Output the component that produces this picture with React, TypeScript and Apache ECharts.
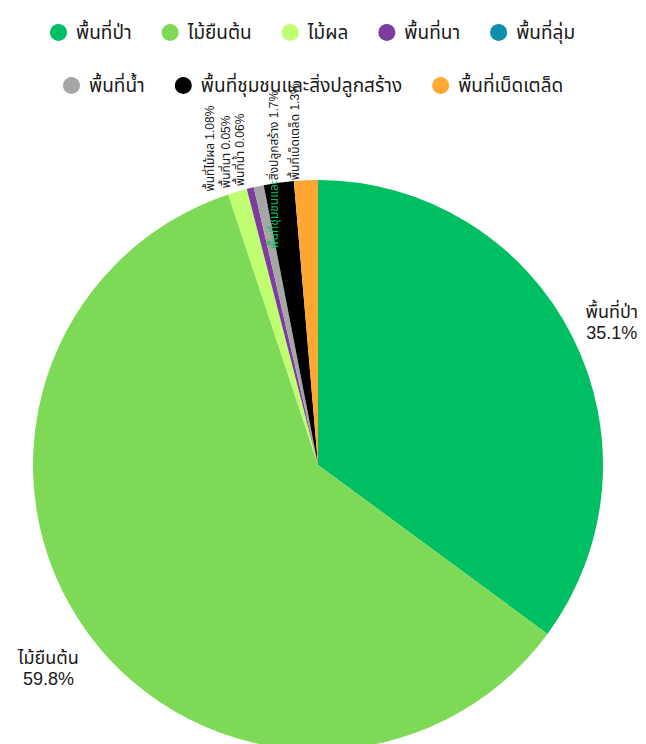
import React, { useEffect, useRef } from 'react';
import * as echarts from 'echarts';

const categories = [
  'พื้นที่ป่า',
  'ไม้ยืนต้น',
  'ไม้ผล',
  'พื้นที่นา',
  'พื้นที่ลุ่ม',
  'พื้นที่น้ำ',
  'พื้นที่ชุมชนและสิ่งปลูกสร้าง',
  'พื้นที่เบ็ดเตล็ด',
];
// slice sizes as drawn (percent share)
const shares = [35.1, 59.8, 1.08, 0.4, 0, 0.57, 1.7, 1.35];
// percentage texts as printed on the labels
const pctLabels = ['35.1%', '59.8%', '1.08%', '0.05%', '', '0.06%', '1.7%', '1.3%'];
const labelNames = [
  'พื้นที่ป่า',
  'ไม้ยืนต้น',
  'พื้นที่ไม้ผล',
  'พื้นที่นา',
  'พื้นที่ลุ่ม',
  'พื้นที่น้ำ',
  'พื้นที่ชุมชนและสิ่งปลูกสร้าง',
  'พื้นที่เบ็ดเตล็ด',
];
const colors = ['#00BF63', '#7ED957', '#C1FF72', '#7E3D9E', '#0E8FB0', '#A6A6A6', '#000000', '#FFA733'];
const legendRow1 = categories.slice(0, 5);
const legendRow2 = categories.slice(5);

const FONT = '"Liberation Sans", Arial, "Noto Sans Thai", Tahoma, sans-serif';

// screen nudges of labels (style only): [sx, sy]
const labelShiftX = [-3, 0, -22, -19, 0, -14, 0, -6];
const labelShiftY = [5, 11, 0, 0, 0, 0, 66, 0];

export default function App() {
  const ref = useRef<HTMLDivElement>(null);
  useEffect(() => {
    if (!ref.current) return;
    const chart = echarts.init(ref.current, undefined, { renderer: 'svg' });
    const data = categories.map((c, i) => {
      const big = shares[i] > 10;
      let label: any;
      if (shares[i] === 0) {
        label = { show: false };
      } else if (big) {
        label = {
          show: true,
          formatter: `${labelNames[i]}\n${pctLabels[i]}`,
          fontSize: 18,
          lineHeight: 21,
          color: '#1a1a1a',
          rotate: 0,
        };
      } else if (i === 6) {
        label = {
          show: true,
          formatter: `{g|พื้นที่ชุมชนและ}{n|สิ่งปลูกสร้าง ${pctLabels[i]}}`,
          rotate: 90,
          rich: {
            g: { color: '#00BF63', fontSize: 12, fontFamily: FONT },
            n: { color: '#1a1a1a', fontSize: 12, fontFamily: FONT },
          },
        };
      } else {
        label = {
          show: true,
          formatter: `${labelNames[i]} ${pctLabels[i]}`,
          fontSize: 12,
          color: '#1a1a1a',
          rotate: 90,
        };
      }
      return {
        name: c,
        value: shares[i],
        itemStyle: { color: colors[i] },
        label,
        labelLine: { show: false, length: big ? 42 : 0, length2: 0 },
      };
    });
    const legendBase = {
      icon: 'circle',
      itemWidth: 25,
      itemHeight: 17,
      itemGap: 30,
      padding: 5,
      textStyle: { fontSize: 19, color: '#1a1a1a', fontFamily: FONT },
    };
    chart.setOption({
      animation: false,
      textStyle: { fontFamily: FONT },
      legend: [
        { ...legendBase, data: legendRow1, top: 10, left: 37 },
        { ...legendBase, data: legendRow2, top: 63, left: 50 },
      ],
      series: [
        {
          type: 'pie',
          center: [310, 457],
          radius: 285,
          startAngle: 90,
          clockwise: true,
          avoidLabelOverlap: false,
          label: { show: true, position: 'outside', fontFamily: FONT },
          labelLine: { show: false },
          emphasis: { disabled: true },
          data,
          labelLayout: (p: any) => {
            const i = p.dataIndex;
            if (shares[i] > 10) return { align: 'center', dx: labelShiftX[i], dy: labelShiftY[i] };
            // rotated 90° labels: offsets are applied in the label's own frame
            return { align: 'left', dx: -labelShiftY[i], dy: labelShiftX[i] };
          },
        },
      ],
    });
    return () => chart.dispose();
  }, []);
  return <div ref={ref} style={{ width: 638, height: 736 }} />;
}
